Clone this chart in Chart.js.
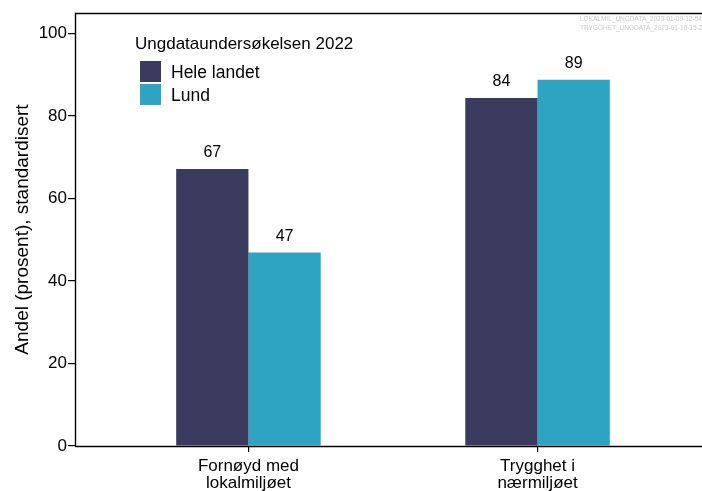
<!DOCTYPE html>
<html>
<head>
<meta charset="utf-8">
<script src="https://cdn.jsdelivr.net/npm/chart.js@4/dist/chart.umd.min.js"></script>
<style>
html,body{margin:0;padding:0;background:#fff;overflow:hidden;width:702px;height:491px;}
#wrap{position:absolute;left:0;top:0;width:711px;height:491px;}
</style>
</head>
<body>
<div id="wrap"><canvas id="c" width="711" height="491"></canvas></div>
<script>
const categories = [["Fornøyd med", "lokalmiljøet"], ["Trygghet i", "nærmiljøet"]];
const seriesNames = ["Hele landet", "Lund"];
const heleLandet = [67.2, 84.4];
const lund = [46.9, 88.8];
const yTicks = [0, 20, 40, 60, 80, 100];
const legendTitle = "Ungdataundersøkelsen 2022";
const sourceNotes = ["LOKALMIL_UNGDATA_2023-01-09-12-54", "TRYGGHET_UNGDATA_2023-01-10-15-24"];
const colors = ["#3a3b5f", "#2fa3c2"];
const FONT = "'Liberation Sans', Arial, sans-serif";

const toPoints = arr => arr.map((v, i) => ({x: i + 1, y: v}));

const overlay = {
  id: 'overlay',
  afterDatasetsDraw(chart) {
    const ctx = chart.ctx;
    const a = chart.chartArea;
    ctx.save();
    // panel border
    ctx.strokeStyle = '#000';
    ctx.lineWidth = 1.4;
    ctx.beginPath();
    ctx.moveTo(Math.round(a.left) + 0.5, Math.round(a.bottom) + 0.5);
    ctx.lineTo(Math.round(a.left) + 0.5, Math.round(a.top) + 0.5);
    ctx.lineTo(a.right + 2, Math.round(a.top) + 0.5);
    ctx.moveTo(Math.round(a.left) + 0.5, Math.round(a.bottom) + 0.5);
    ctx.lineTo(a.right + 2, Math.round(a.bottom) + 0.5);
    ctx.stroke();
    // data labels
    ctx.fillStyle = '#000';
    ctx.font = '16px ' + FONT;
    ctx.textAlign = 'center';
    ctx.textBaseline = 'alphabetic';
    chart.data.datasets.forEach((ds, di) => {
      const meta = chart.getDatasetMeta(di);
      meta.data.forEach((bar, i) => {
        ctx.fillText(String(Math.round(ds.data[i].y)), bar.x, bar.y - 12);
      });
    });
    // legend
    ctx.textAlign = 'left';
    ctx.textBaseline = 'alphabetic';
    ctx.font = '17px ' + FONT;
    ctx.fillText(legendTitle, 135, 49);
    seriesNames.forEach((n, i) => {
      ctx.fillStyle = colors[i];
      ctx.fillRect(140, 61 + i * 23, 21, 21);
      ctx.fillStyle = '#000';
      ctx.font = '17.5px ' + FONT;
      ctx.fillText(n, 171, 78 + i * 23);
    });
    // source notes
    ctx.fillStyle = '#c8c8c8';
    ctx.font = '6.5px ' + FONT;
    ctx.fillText(sourceNotes[0], 580, 21);
    ctx.fillText(sourceNotes[1], 580, 30);
    ctx.restore();
  }
};

new Chart(document.getElementById('c'), {
  type: 'bar',
  data: {
    datasets: [
      {label: seriesNames[0], data: toPoints(heleLandet), backgroundColor: colors[0]},
      {label: seriesNames[1], data: toPoints(lund), backgroundColor: colors[1]}
    ]
  },
  options: {
    responsive: false,
    animation: false,
    devicePixelRatio: 1,
    layout: {padding: {top: 13, right: 0, left: 0, bottom: 0}},
    datasets: {bar: {categoryPercentage: 0.5, barPercentage: 1.0, grouped: true}},
    plugins: {legend: {display: false}, tooltip: {enabled: false}},
    scales: {
      x: {
        type: 'linear',
        min: 0.4,
        max: 2.6,
        offset: false,
        afterBuildTicks: s => { s.ticks = categories.map((c, i) => ({value: i + 1})); },
        afterFit: s => { s.height = 45; },
        grid: {display: true, offset: false, drawOnChartArea: false, drawTicks: true, tickLength: 6, color: '#000', lineWidth: 1.2},
        border: {display: true, color: '#000'},
        ticks: {
          color: '#000',
          font: {family: FONT, size: 17, lineHeight: 1.0},
          padding: 6,
          maxRotation: 0,
          autoSkip: false,
          callback: v => categories[Math.round(v) - 1]
        }
      },
      y: {
        min: 0,
        max: 105,
        afterBuildTicks: s => { s.ticks = yTicks.map(v => ({value: v})); },
        afterFit: s => { s.width = 75; },
        grid: {display: true, offset: false, drawOnChartArea: false, drawTicks: true, tickLength: 7, color: '#000', lineWidth: 1.2},
        border: {display: true, color: '#000'},
        title: {display: true, text: 'Andel (prosent), standardisert', color: '#000', font: {family: FONT, size: 19}, padding: {top: 11, bottom: 0}},
        ticks: {color: '#000', font: {family: FONT, size: 17}, padding: 1}
      }
    }
  },
  plugins: [overlay]
});
</script>
</body>
</html>
